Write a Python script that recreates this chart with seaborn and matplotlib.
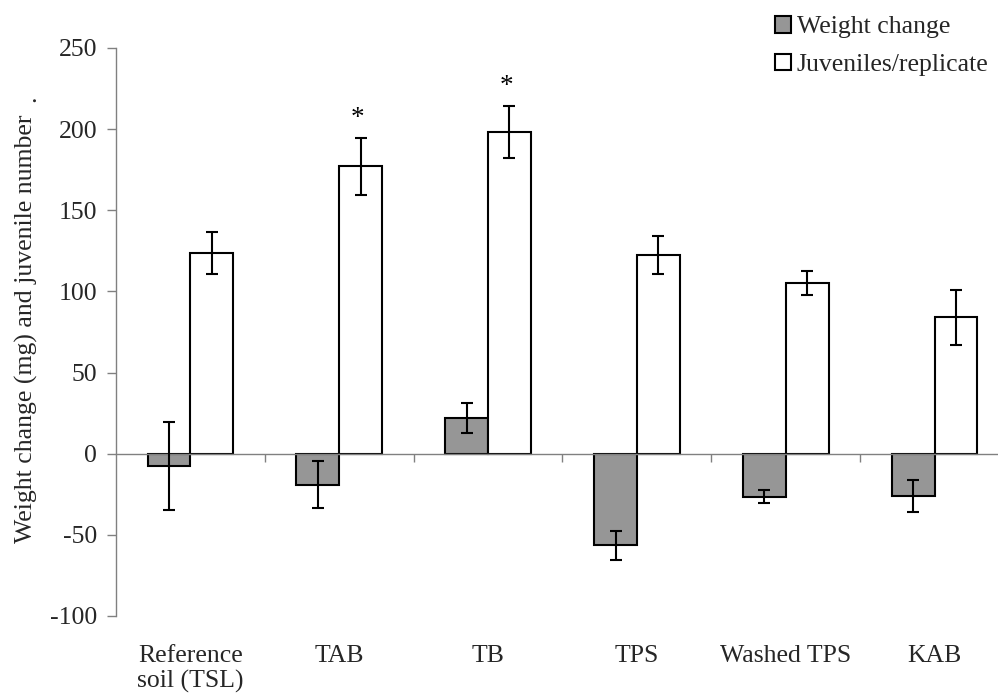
import matplotlib
matplotlib.use("Agg")
import matplotlib.pyplot as plt
import matplotlib.patches as mpatches
import seaborn as sns
import pandas as pd
import numpy as np

categories = ["Reference\nsoil (TSL)", "TAB", "TB", "TPS", "Washed TPS", "KAB"]
weight_change = [-7.5, -19, 22, -56.5, -26.5, -26]
weight_err = [27, 14.5, 9, 8.8, 4, 10]
juveniles = [123.5, 177, 198.5, 122.5, 105, 84]
juveniles_err = [13, 17.5, 16, 11.5, 7.5, 17]
series = ["Weight change", "Juveniles/replicate"]
significant = ["TAB", "TB"]

sns.set_theme(style="white")
plt.rcParams["font.family"] = ["Liberation Serif", "DejaVu Serif"]
plt.rcParams["axes.unicode_minus"] = False
FS = 18.5

df = pd.DataFrame({
    "category": categories * 2,
    "series": [series[0]] * len(categories) + [series[1]] * len(categories),
    "value": weight_change + juveniles,
    "err": weight_err + juveniles_err,
})

fig = plt.figure(figsize=(9.98, 6.98), dpi=100)
ax = fig.add_axes([116 / 998, 1 - 616 / 698, 893 / 998, 568 / 698])

sns.barplot(data=df, x="category", y="value", hue="series", order=categories,
            hue_order=series, palette={series[0]: "#969696", series[1]: "white"},
            width=0.575, errorbar=None, edgecolor="black", linewidth=1.5,
            saturation=1, ax=ax, legend=False)

# error bars from bar patches
bars = [p for p in ax.patches if isinstance(p, mpatches.Rectangle)]
bars = bars[:2 * len(categories)]
for i, p in enumerate(bars):
    s = i // len(categories)
    c = i % len(categories)
    row = df[(df["series"] == series[s]) & (df["category"] == categories[c])].iloc[0]
    xc = p.get_x() + p.get_width() / 2
    ax.errorbar(xc, row["value"], yerr=row["err"], fmt="none", ecolor="black",
                elinewidth=1.5, capsize=4.5, capthick=1.5, zorder=5)
    if s == 1 and categories[c] in significant:
        ax.text(xc - 0.02, row["value"] + row["err"] + 8, "*", ha="center",
                va="baseline", fontsize=FS + 1, color="black")

ax.set_ylim(-100, 250)
ax.set_xlim(-0.5, len(categories) - 0.5)
ax.set_yticks(np.arange(-100, 251, 50))
ax.tick_params(axis="y", labelsize=FS, length=6.5, width=1, color="#808080",
               pad=7, direction="out", left=True)

for side in ["top", "right"]:
    ax.spines[side].set_visible(False)
ax.spines["left"].set_color("#808080")
ax.spines["left"].set_linewidth(1)
ax.spines["bottom"].set_position(("data", 0))
ax.spines["bottom"].set_color("#808080")
ax.spines["bottom"].set_linewidth(1)

ax.set_xticks(np.arange(len(categories)))
ax.set_xticklabels(categories, fontsize=FS, linespacing=1.15)
ax.tick_params(axis="x", which="major", length=0, pad=138, bottom=True)
ax.set_xticks(np.arange(0.5, len(categories) - 1, 1), minor=True)
ax.tick_params(axis="x", which="minor", length=6, width=1, color="#808080",
               direction="out", bottom=True)
ax.set_xlabel("")

ax.set_ylabel("Weight change (mg) and juvenile number", fontsize=FS)
ax.yaxis.set_label_coords(-0.087, 0.505)
fig.text(29 / 998, 1 - 99 / 698, ".", rotation=90, fontsize=FS, ha="center", va="center")

handles = [mpatches.Patch(facecolor="#969696", edgecolor="black", linewidth=1.5),
           mpatches.Patch(facecolor="white", edgecolor="black", linewidth=1.5)]
fig.legend(handles, series, loc="upper left", bbox_to_anchor=(775 / 998, 1 - 16 / 698),
           frameon=False, fontsize=FS, handlelength=0.62, handleheight=0.62,
           handletextpad=0.22, labelspacing=0.6, borderpad=0, borderaxespad=0)

fig.savefig("out.png", dpi=100)
